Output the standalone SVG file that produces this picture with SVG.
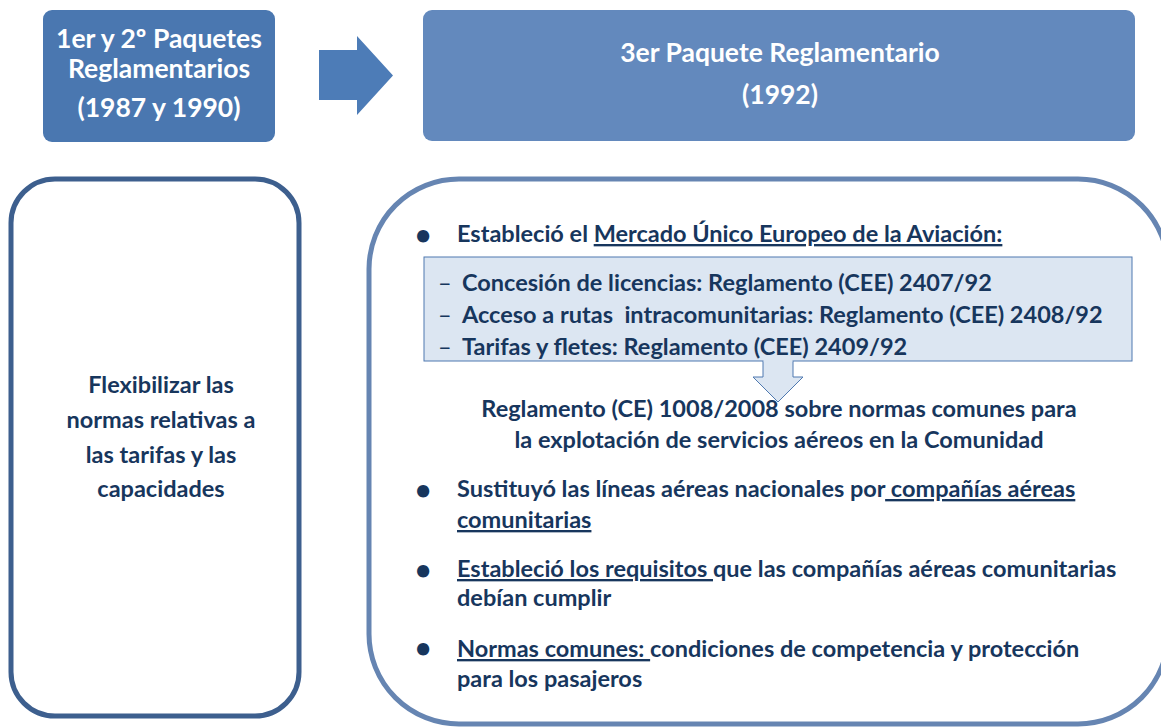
<svg xmlns="http://www.w3.org/2000/svg" width="1161" height="727" viewBox="0 0 1161 727">
<style>
text{font-family:Lato,"Liberation Sans",sans-serif;font-weight:bold}
.w{fill:#ffffff;font-size:26.5px;text-anchor:middle}
.d{fill:#17365d;font-size:23.5px}
.c{text-anchor:middle}
.u{text-decoration:underline}
.dash{font-weight:normal}
.bul{text-anchor:middle;font-size:28px}
</style>
<rect width="1161" height="727" fill="#ffffff"/>
<g id="box-1y2">
<rect x="43" y="10" width="232" height="132" rx="9" fill="#4a77b0"/>
<text class="w" x="159" y="48">1er y 2º Paquetes</text>
<text class="w" x="159" y="78">Reglamentarios</text>
<text class="w" x="159" y="117">(1987 y 1990)</text>
</g>
<g id="connectors">
<polygon points="319,50 357,50 357,36 393,75.5 357,115 357,100 319,100" fill="#4d7cb7"/>
<polygon points="763,360 793,360 793,377 803,377 778,402 753,377 763,377" fill="#dce6f2"/>
<polyline points="763,361 763,377 753,377 778,402 803,377 793,377 793,361" fill="none" stroke="#4f79b0" stroke-width="1"/>
</g>
<g id="box-3er">
<rect x="423" y="10" width="712" height="131" rx="9" fill="#6389bd"/>
<text class="w" x="780" y="62">3er Paquete Reglamentario</text>
<text class="w" x="780" y="104">(1992)</text>
</g>
<g id="box-flex">
<rect x="11" y="179" width="288" height="537" rx="44" fill="none" stroke="#3d5f8e" stroke-width="5"/>
<text class="d c" x="161" y="393">Flexibilizar las</text>
<text class="d c" x="161" y="428">normas relativas a</text>
<text class="d c" x="161" y="463">las tarifas y las</text>
<text class="d c" x="161" y="497">capacidades</text>
</g>
<g id="box-detalle">
<rect x="369" y="179" width="799" height="545" rx="90" fill="none" stroke="#6685b2" stroke-width="5"/>
<text class="d bul" x="423" y="245">•</text>
<text class="d" x="457" y="242" xml:space="preserve">Estableció el <tspan class="u">Mercado Único Europeo de la Aviación:</tspan></text>
</g>
<g id="box-reglamentos">
<rect x="424" y="257" width="708" height="104" fill="#dce6f2" stroke="#4f79b0" stroke-width="1"/>
<polygon points="763.5,360 792.5,360 792.5,362 763.5,362" fill="#dce6f2"/>
<text class="d dash" x="438" y="291">–</text>
<text class="d" x="462" y="291">Concesión de licencias: Reglamento (CEE) 2407/92</text>
<text class="d dash" x="438" y="323">–</text>
<text class="d" x="462" y="323" xml:space="preserve">Acceso a rutas  intracomunitarias: Reglamento (CEE) 2408/92</text>
<text class="d dash" x="438" y="355">–</text>
<text class="d" x="462" y="355">Tarifas y fletes: Reglamento (CEE) 2409/92</text>
</g>
<g id="texto-detalle">
<text class="d c" x="779" y="417">Reglamento (CE) 1008/2008 sobre normas comunes para</text>
<text class="d c" x="779" y="448">la explotación de servicios aéreos en la Comunidad</text>
<text class="d bul" x="423" y="500">•</text>
<text class="d" x="457" y="497" xml:space="preserve">Sustituyó las líneas aéreas nacionales por<tspan class="u"> compañías aéreas</tspan></text>
<text class="d u" x="457" y="528">comunitarias</text>
<text class="d bul" x="423" y="580">•</text>
<text class="d" x="457" y="577" xml:space="preserve"><tspan class="u">Estableció los requisitos </tspan>que las compañías aéreas comunitarias</text>
<text class="d" x="457" y="606">debían cumplir</text>
<text class="d bul" x="423" y="658">•</text>
<text class="d" x="457" y="657" xml:space="preserve"><tspan class="u">Normas comunes: </tspan>condiciones de competencia y protección</text>
<text class="d" x="457" y="687">para los pasajeros</text>
</g>
</svg>
